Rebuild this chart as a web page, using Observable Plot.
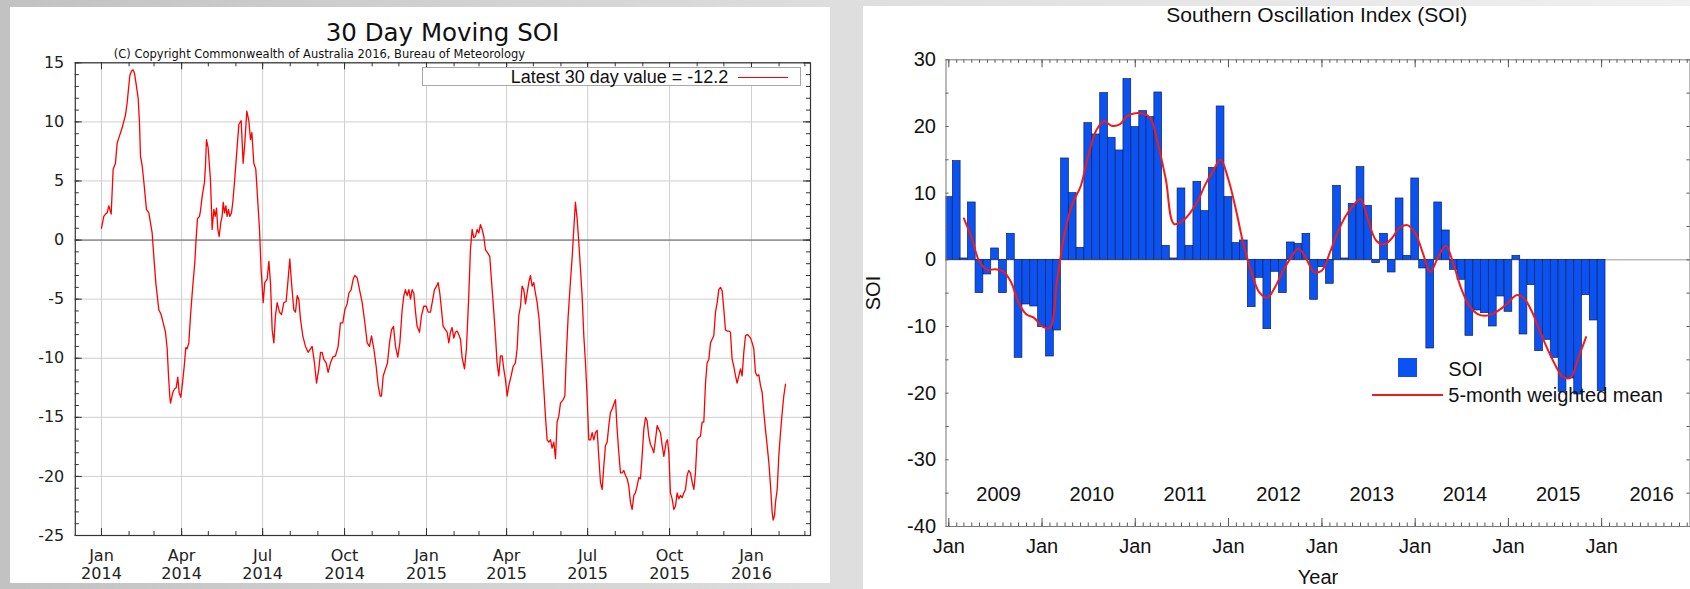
<!DOCTYPE html>
<html><head><meta charset="utf-8">
<script src="https://cdn.jsdelivr.net/npm/d3@7"></script>
<script src="https://cdn.jsdelivr.net/npm/@observablehq/plot@0.6"></script>
<style>
html,body{margin:0;padding:0;width:1690px;height:589px;overflow:hidden;}
body{position:relative;background:linear-gradient(to right,#c2c2c2 0%,#dedede 50%,#f0f0f0 100%);}
.panel{position:absolute;background:#fff;}
.panel svg{position:absolute;left:0;top:0;}
.t{position:absolute;white-space:nowrap;line-height:1;color:#111;}
.L{font-family:"DejaVu Sans",sans-serif;}
.R{font-family:"Liberation Sans",Arial,sans-serif;}
</style></head><body>
<div id="left" class="panel" style="left:10px;top:7px;width:820px;height:576px;overflow:hidden;"></div>
<div id="right" class="panel" style="left:863px;top:6px;width:827px;height:583px;overflow:visible;"></div>
<script>
// ---------------- DATA ----------------
// Left chart: 30 day moving SOI, [days since 2014-01-01, value]
const soi30Day = [
[0,1.0],[2.6,2.0],[4.5,2.2],[6.4,2.3],[8.2,2.9],[10.9,2.2],[13.1,6.0],[15.7,6.5],[17.6,8.2],[20.6,8.9],
[23.2,9.5],[27.0,10.6],[28.8,11.6],[31.8,13.9],[33.7,14.3],[35.6,14.4],[37.1,14.1],[39.3,13.0],[41.2,12.0],[42.7,9.9],
[43.8,7.1],[45.7,6.3],[47.5,5.0],[50.5,2.6],[53.2,2.3],[56.9,0.6],[58.8,-1.4],[61.0,-3.6],[64.4,-5.9],[67.0,-6.3],
[69.3,-7.0],[71.9,-7.8],[73.8,-9.2],[75.3,-11.5],[76.8,-13.3],[77.5,-13.8],[80.1,-12.9],[82.0,-12.6],[83.9,-12.5],[85.7,-11.6],
[87.2,-12.9],[89.1,-13.3],[91.0,-12.1],[92.9,-10.7],[94.7,-9.1],[96.2,-9.2],[98.1,-8.7],[100.0,-6.4],[102.2,-4.2],[104.8,-1.9],
[106.3,0.1],[107.8,1.8],[110.1,2.0],[111.2,2.5],[113.1,3.7],[115.7,4.9],[116.8,6.3],[117.9,8.5],[119.8,7.8],[122.4,5.1],
[124.3,0.9],[126.2,2.6],[127.7,2.0],[129.2,2.7],[130.7,0.9],[132.2,0.3],[134.0,1.5],[135.5,2.0],[136.7,3.2],[138.2,2.3],
[139.7,2.9],[141.1,2.0],[142.6,2.6],[144.1,2.0],[146.0,2.3],[147.5,3.2],[149.4,4.9],[151.6,7.1],[154.3,9.8],[156.9,10.1],
[159.1,6.5],[161.0,8.2],[163.2,10.9],[165.5,10.1],[167.4,8.5],[168.9,9.1],[171.1,6.5],[173.3,6.0],[175.6,3.2],[177.5,0.9],
[179.3,-2.5],[181.6,-5.3],
[183.4,-3.6],[186.1,-3.3],[188.0,-1.8],[189.8,-3.6],[191.7,-7.6],[193.6,-8.7],[195.4,-6.4],[197.3,-5.3],[199.9,-6.1],[202.2,-6.3],
[204.8,-5.3],[207.4,-5.2],[209.3,-3.6],[211.5,-1.6],[213.4,-3.6],[216.0,-5.9],[217.9,-6.1],[219.8,-4.7],[221.6,-5.0],[223.5,-6.7],
[226.1,-8.1],[229.1,-9.0],[232.1,-9.5],[234.7,-9.2],[236.6,-9.0],[239.2,-10.4],[241.5,-12.1],[244.1,-10.9],[246.0,-9.5],[247.8,-9.5],
[249.7,-10.1],[252.3,-10.4],[254.6,-11.2],[257.2,-10.4],[259.8,-9.9],[262.8,-9.8],[265.8,-9.0],[268.4,-7.0],[271.0,-7.0],[273.3,-5.9],
[275.9,-5.4],[277.8,-4.5],[280.4,-4.2],[282.7,-3.3],[284.5,-3.0],[287.2,-3.2],[289.8,-4.2],[292.8,-5.3],[295.8,-7.0],[298.4,-8.7],
[301.0,-9.0],[303.3,-8.1],[305.9,-9.2],[308.5,-10.7],[310.7,-12.3],[313.0,-13.2],[314.5,-13.2],[316.4,-11.5],[319.0,-10.9],[321.2,-10.4],
[323.5,-8.7],[325.7,-7.6],[328.0,-7.3],[330.2,-9.0],[332.8,-9.9],[335.1,-8.7],[337.7,-5.9],[339.6,-4.7],[341.4,-4.2],[343.3,-4.7],
[345.2,-4.2],[347.1,-5.0],[348.9,-4.2],[350.8,-4.5],[352.7,-6.1],[354.5,-7.3],[357.2,-7.8],[359.4,-6.4],[362.0,-5.6],[364.7,-5.6],
[366.9,-6.1],[369.5,-6.1],[371.4,-5.3],[374.0,-4.2],[376.3,-3.9],[378.1,-3.6],[380.0,-4.5],[381.9,-5.9],[383.7,-7.3],[386.4,-7.6],
[388.2,-7.8],[390.1,-8.7],
[391.9,-7.8],[393.8,-7.4],[395.7,-8.3],[397.5,-7.8],[399.4,-7.7],[401.3,-8.0],[403.2,-8.4],[405.0,-9.9],[407.7,-10.9],[409.9,-9.2],
[412.5,-4.7],[414.4,-0.8],[416.3,0.9],[418.1,0.2],[420.0,0.3],[421.9,0.9],[423.8,0.6],[425.6,1.3],[427.5,0.9],[429.4,0.3],
[431.2,-0.8],[433.9,-1.1],[436.1,-1.4],[437.6,-3.0],[439.9,-5.3],[442.5,-8.1],[444.3,-10.4],[446.2,-11.5],[448.1,-9.8],[450.0,-9.8],
[451.8,-10.9],[453.7,-11.8],[455.6,-13.2],[457.5,-12.3],[460.1,-11.5],[462.3,-10.7],[464.9,-10.4],[466.8,-9.2],[468.7,-6.4],[470.6,-5.6],
[472.4,-3.9],[474.3,-4.2],[476.2,-5.4],[478.0,-4.5],[479.9,-3.6],[481.8,-3.0],[483.7,-3.9],[485.5,-3.6],[487.4,-4.5],[489.3,-5.3],
[491.5,-6.7],[493.0,-8.4],[494.9,-10.4],[496.8,-12.6],[498.6,-14.9],[500.5,-16.9],[502.4,-17.1],[504.3,-16.9],[506.1,-17.6],[508.0,-17.1],
[509.9,-18.5],[511.7,-15.4],[513.6,-14.9],[515.5,-13.8],[518.5,-13.5],[520.4,-13.2],[522.2,-9.5],[524.1,-6.5],[526.7,-3.5],[528.6,-1.5],
[530.5,1.0],[532.3,3.2],[534.2,1.8],[536.1,-0.2],[538.0,-2.5],[539.8,-4.7],[541.7,-8.1],[543.6,-10.4],[545.4,-13.2],[547.3,-16.9],
[549.2,-16.9],[551.1,-16.3],[552.9,-16.9],[554.8,-16.3],[556.7,-16.1],[558.5,-18.3],[560.4,-20.5],[562.3,-21.1],[564.2,-19.1],[566.0,-17.4],
[567.9,-17.1],[569.8,-15.7],[571.6,-14.6],[573.5,-14.3],[575.4,-13.9],[577.3,-13.5],[579.1,-16.0],[581.0,-18.0],[582.9,-19.7],[584.7,-19.7],
[586.6,-19.5],[588.5,-19.9],[590.4,-20.2],[592.2,-20.8],[594.1,-22.2],[596.0,-22.8],
[597.9,-21.6],[599.7,-21.4],[601.6,-20.8],[603.5,-20.1],[605.3,-20.2],[607.2,-18.3],[609.1,-16.0],[611.0,-15.0],[612.8,-15.3],[614.7,-16.6],
[616.6,-17.3],[618.5,-17.6],[620.3,-18.0],[622.2,-16.9],[624.1,-15.7],[625.9,-16.0],[627.8,-16.3],[629.7,-17.4],[631.6,-18.3],[632.7,-17.8],
[634.2,-17.1],[635.7,-16.9],[637.2,-18.0],[639.0,-21.4],[640.9,-21.9],[642.8,-22.8],[644.7,-22.5],[646.5,-21.4],[648.4,-21.9],[650.3,-21.6],
[652.1,-21.8],[654.0,-21.4],[655.9,-21.1],[657.8,-19.9],[659.6,-19.5],[661.5,-19.7],[663.4,-20.5],[665.3,-21.1],[667.1,-19.7],[669.0,-16.9],
[670.9,-16.7],[672.7,-16.6],[674.6,-15.4],[676.5,-15.4],[678.4,-12.1],[680.2,-10.4],[682.1,-10.1],[684.0,-8.7],[685.8,-8.4],[687.7,-8.1],
[689.6,-6.1],[691.5,-5.3],[693.3,-4.2],[695.2,-4.0],[697.1,-4.3],[699.0,-5.9],[700.8,-7.6],[702.7,-7.7],[704.6,-7.7],[706.4,-7.8],
[708.3,-10.1],[710.2,-10.7],[712.1,-11.5],[713.9,-12.1],[715.8,-11.5],[717.7,-10.9],[719.5,-11.5],[721.4,-9.5],[723.3,-8.1],[725.2,-8.0],
[727.0,-8.1],[728.9,-8.3],[730.8,-8.7],[732.6,-9.2],[734.5,-11.2],[736.4,-11.5],[738.3,-11.4],[740.1,-12.3],[742.0,-12.9],[743.9,-14.6],
[745.7,-16.0],[747.6,-17.4],[749.5,-18.8],[751.4,-20.8],[753.2,-23.0],[754.4,-23.7],[755.9,-23.3],[757.0,-22.2],[758.9,-21.1],[760.7,-18.3],
[762.6,-16.3],[764.5,-14.6],[766.3,-13.2],[768.2,-12.2]
];
const latestValue = -12.2;
const leftYTicks = [-25,-20,-15,-10,-5,0,5,10,15];

// Right chart: monthly SOI from Jan 2009 to Jan 2016
const monthlyStart = "2009-01-01";
const monthlySOI = [
 9.4, 14.8, 0.2, 8.6, -5.0, -2.2, 1.7, -5.0, 3.9, -14.7, -6.7, -7.0,
 -10.1, -14.5, -10.6, 15.2, 10.0, 1.8, 20.5, 18.8, 25.0, 18.3, 16.4, 27.1,
 19.9, 22.3, 21.4, 25.1, 2.1, 0.2, 10.7, 2.1, 11.7, 7.3, 13.8, 23.0,
 9.4, 2.5, 2.9, -7.1, -2.7, -10.4, -1.8, -5.0, 2.6, 2.4, 3.9, -6.0,
 -1.1, -3.6, 11.1, 0.2, 8.4, 13.9, 8.1, -0.5, 3.9, -1.9, 9.2, 0.6,
 12.2, -1.3, -13.3, 8.6, 4.4, -1.5, -3.0, -11.4, -7.6, -8.0, -10.0, -5.5,
 -7.8, 0.6, -11.2, -3.8, -13.7, -12.0, -14.7, -19.8, -17.8, -20.2, -5.3, -9.1,
 -19.7
];
// 5-month weighted mean from Mar 2009 to Nov 2015
const meanStart = "2009-03-01";
const meanSOI = [
 6.2, 3.2, -0.3, -1.5, -1.4, -1.7, -3.3, -6.4, -8.2, -8.7, -10.0, -10.2,
 -3.0, 4.2, 8.5, 11.0, 15.6, 19.4, 20.8, 20.1, 20.3, 21.6, 22.0, 21.9,
 21.3, 17.2, 12.0, 5.4, 5.7, 6.9, 8.7, 11.2, 13.3, 15.0, 12.0, 7.2,
 2.1, -2.0, -4.9, -5.7, -4.1, -1.7, 0.3, 1.7, 0.1, -1.8, -1.6, 1.1,
 3.9, 6.4, 8.0, 9.1, 5.9, 2.9, 2.3, 3.2, 4.8, 5.2, 4.0, 0.9,
 -1.8, 0.4, 2.1, -0.8, -4.4, -6.9, -8.1, -8.4, -8.1, -7.4, -6.4, -5.3,
 -5.7, -7.6, -10.4, -13.2, -15.6, -17.5, -17.7, -14.8, -11.6
];
const rightYTicks = [-40,-30,-20,-10,0,10,20,30];
const yearLabels = [2009,2010,2011,2012,2013,2014,2015,2016];

// ---------------- LEFT CHART ----------------
const DAY = 864e5;
const t0 = Date.UTC(2014,0,1);
const daily = soi30Day.map(([d,v]) => ({date: new Date(t0 + d*DAY), value: v}));

const LW=820, LH=576, LML=64.8, LMR=20, LMT=55.3, LMB=48;
const lIW = LW-LML-LMR, lIH = LH-LMT-LMB;
const lMonths = d3.utcMonth.range(new Date(Date.UTC(2014,0,1)), new Date(Date.UTC(2016,2,2)));
const lQuarters = d3.utcMonth.every(3).range(new Date(Date.UTC(2014,0,1)), new Date(Date.UTC(2016,0,2)));
const lYMinor = d3.range(-25,16);
const fmtM = d3.utcFormat("%b"), fmtY = d3.utcFormat("%Y");

const left = Plot.plot({
  width: LW, height: LH,
  marginLeft: LML, marginRight: LMR, marginTop: LMT, marginBottom: LMB,
  x: {type: "utc", domain: [new Date(t0 - 29.4*DAY), new Date(t0 + 796.3*DAY)]},
  y: {domain: [-25, 15]},
  style: {fontFamily: "DejaVu Sans, sans-serif", fontSize: "16px", color: "#222", background: "transparent"},
  marks: [
    Plot.gridX(lQuarters, {stroke: "#cfcfcf", strokeOpacity: 1}),
    Plot.gridY(leftYTicks, {stroke: "#cfcfcf", strokeOpacity: 1}),
    Plot.ruleY([0], {stroke: "#606060", strokeWidth: 1}),
    Plot.line(daily, {x: "date", y: "value", stroke: "#ff0000", strokeWidth: 1.3}),
    Plot.tickX(lMonths, {x: d => d, insetTop: lIH - 4, stroke: "#333"}),
    Plot.tickX(lMonths, {x: d => d, insetBottom: lIH - 4, stroke: "#333"}),
    Plot.tickX(lQuarters, {x: d => d, insetTop: lIH - 7, stroke: "#333"}),
    Plot.tickX(lQuarters, {x: d => d, insetBottom: lIH - 7, stroke: "#333"}),
    Plot.tickY(lYMinor, {y: d => d, insetRight: lIW - 4, stroke: "#333"}),
    Plot.tickY(lYMinor, {y: d => d, insetLeft: lIW - 4, stroke: "#333"}),
    Plot.tickY(leftYTicks, {y: d => d, insetRight: lIW - 7, stroke: "#333"}),
    Plot.tickY(leftYTicks, {y: d => d, insetLeft: lIW - 7, stroke: "#333"}),
    Plot.frame({stroke: "#333", strokeWidth: 1.2}),
    Plot.axisX(lQuarters, {tickSize: 0, tickPadding: 13, label: null, lineHeight: 1.13,
      tickFormat: d => fmtM(d) + "\n" + fmtY(d)}),
    Plot.axisY(leftYTicks, {tickSize: 0, tickPadding: 11, label: null, tickFormat: d => String(d)})
  ]
});
const leftDiv = document.getElementById("left");
leftDiv.appendChild(left);
leftDiv.insertAdjacentHTML("beforeend", `
  <div class="t L" style="left:432.5px;top:14.3px;font-size:24.5px;transform:translateX(-50%);">30 Day Moving SOI</div>
  <div class="t L" style="left:103.8px;top:41.6px;font-size:11.5px;">(C) Copyright Commonwealth of Australia 2016, Bureau of Meteorology</div>
  <div style="position:absolute;left:411.7px;top:60.3px;width:377px;height:17px;border:1px solid #a8a8a8;background:#fff;"></div>
  <div class="t R" style="left:718.3px;top:61px;font-size:18px;transform:translateX(-100%);">Latest 30 day value = ${latestValue.toFixed(1)}</div>
  <div style="position:absolute;left:728.3px;top:69.8px;width:50px;height:1.3px;background:#ff0000;"></div>
`);

// ---------------- RIGHT CHART ----------------
const mStart = new Date(monthlyStart + "T00:00Z");
const monthly = monthlySOI.map((v,i) => ({date: d3.utcMonth.offset(mStart, i), value: v}));
const mean = meanSOI.map((v,i) => ({date: d3.utcMonth.offset(new Date(meanStart + "T00:00Z"), i), value: v}));
const half = 15.2*DAY;

const RW=827, RH=583, RML=82.5, RMR=0.5, RMT=53.3, RMB=63;
const rIW = RW-RML-RMR, rIH = RH-RMT-RMB;
const rMonths = d3.utcMonth.range(new Date(Date.UTC(2009,0,1)), new Date(Date.UTC(2016,11,2)));
const rJans = d3.utcYear.range(new Date(Date.UTC(2009,0,1)), new Date(Date.UTC(2016,0,2)));
const rY5 = d3.range(-40, 31, 5);

const right = Plot.plot({
  width: RW, height: RH,
  marginLeft: RML, marginRight: RMR, marginTop: RMT, marginBottom: RMB,
  x: {type: "utc", domain: [new Date(Date.UTC(2008,11,21)), new Date(Date.UTC(2016,11,12))]},
  y: {domain: [-40, 30]},
  style: {fontFamily: "Liberation Sans, Arial, sans-serif", fontSize: "20px", color: "#111", background: "transparent"},
  marks: [
    Plot.ruleY([0], {stroke: "#9a9a9a", strokeWidth: 1}),
    Plot.rect(monthly, {x1: d => new Date(+d.date - half), x2: d => new Date(+d.date + half),
      y1: 0, y2: "value", fill: "#0a52f2", stroke: "#13235a", strokeWidth: 0.7, clip: true}),
    Plot.line(mean, {x: "date", y: "value", stroke: "#f01c1c", strokeWidth: 2, curve: "catmull-rom"}),
    Plot.tickX(rMonths, {x: d => d, insetTop: rIH - 3.5, stroke: "#555"}),
    Plot.tickX(rMonths, {x: d => d, insetBottom: rIH - 3.5, stroke: "#555"}),
    Plot.tickX(rJans, {x: d => d, insetTop: rIH - 8, stroke: "#555"}),
    Plot.tickX(rJans, {x: d => d, insetBottom: rIH - 8, stroke: "#555"}),
    Plot.tickY(rY5, {y: d => d, insetRight: rIW - 3, stroke: "#555"}),
    Plot.tickY(rY5, {y: d => d, insetLeft: rIW - 3, stroke: "#555"}),
    Plot.frame({stroke: "#777"}),
    Plot.text(yearLabels, {x: d => new Date(Date.UTC(d,6,15)), text: d => String(d),
      frameAnchor: "bottom", dy: -26, fontSize: 20, fill: "#111"}),
    Plot.axisX(rJans, {tickSize: 0, tickPadding: 12, label: null, tickFormat: () => "Jan"}),
    Plot.axisY(rightYTicks, {tickSize: 0, tickPadding: 10, label: null, tickFormat: d => String(d)})
  ]
});
const rightDiv = document.getElementById("right");
rightDiv.appendChild(right);
rightDiv.insertAdjacentHTML("beforeend", `
  <div class="t R" style="left:453.8px;top:0px;line-height:17px;font-size:21px;transform:translateX(-50%);">Southern Oscillation Index (SOI)</div>
  <div class="t R" style="left:9.5px;top:287px;line-height:14px;font-size:20px;transform:translate(-50%,-50%) rotate(-90deg);">SOI</div>
  <div class="t R" style="left:455px;top:562.5px;line-height:16px;font-size:20px;transform:translateX(-50%);">Year</div>
  <div style="position:absolute;left:535.3px;top:352.3px;width:18.4px;height:18.4px;background:#0a52f2;"></div>
  <div class="t R" style="left:585.3px;top:353.1px;font-size:20px;">SOI</div>
  <div style="position:absolute;left:508.7px;top:388px;width:71.6px;height:2px;background:#f01c1c;"></div>
  <div class="t R" style="left:585.3px;top:378.8px;font-size:20px;">5-month weighted mean</div>
`);
</script>
</body></html>
